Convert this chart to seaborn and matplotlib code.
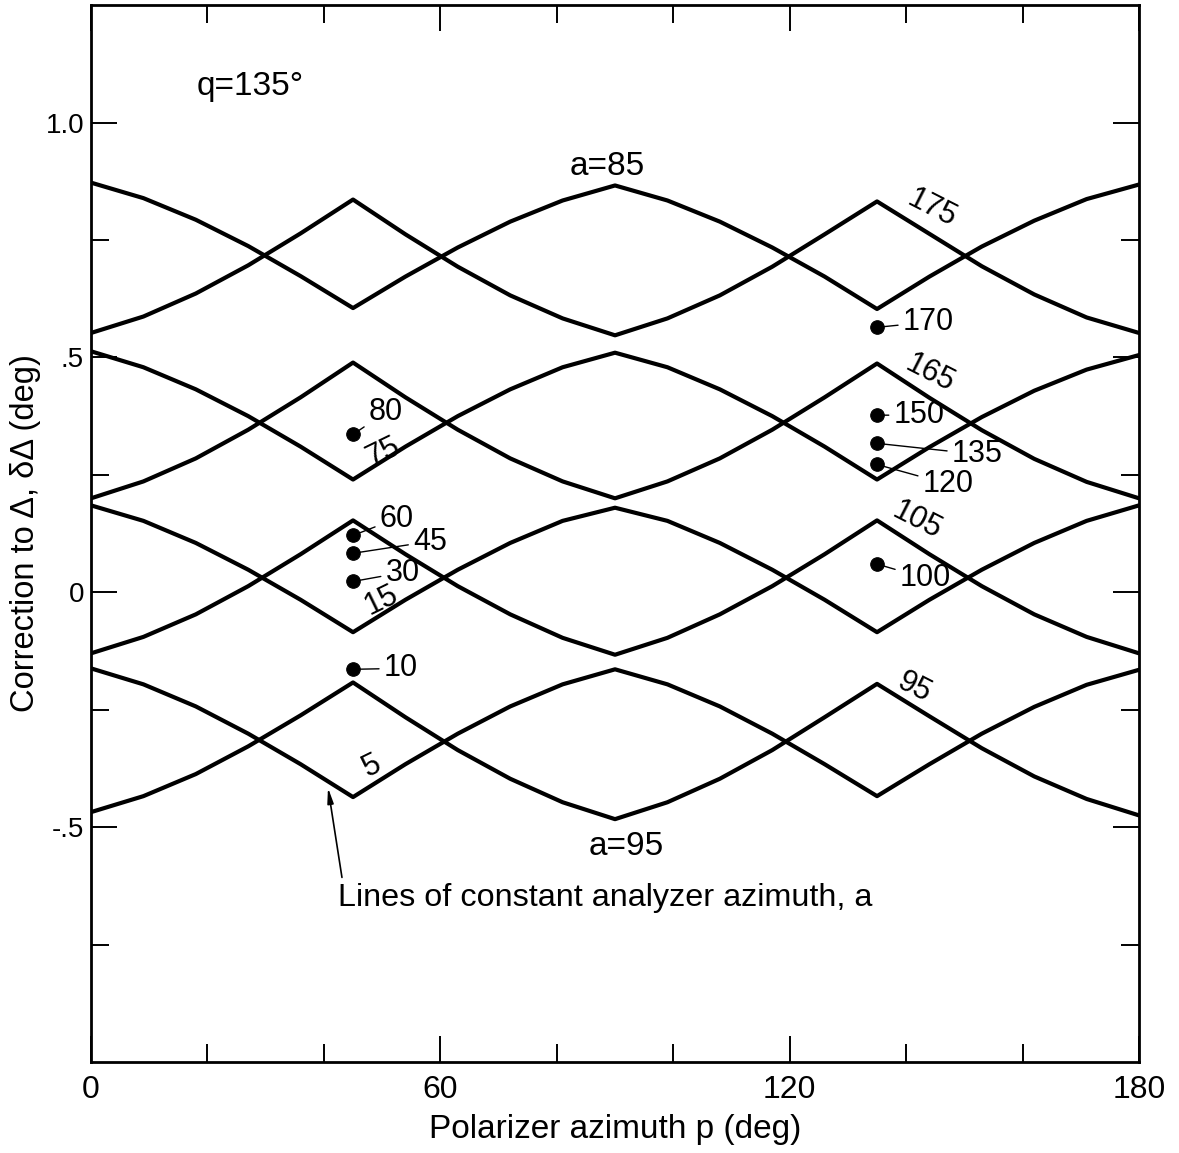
import numpy as np
import pandas as pd
import seaborn as sns
import matplotlib
matplotlib.use("Agg")
import matplotlib.pyplot as plt
from matplotlib import font_manager

# polarizer azimuth p (deg)
p = [0, 9, 18, 27, 36, 45, 54, 63, 72, 81, 90, 99, 108, 117, 126, 135, 144, 153, 162, 171, 180]

# correction to Delta for each analyzer azimuth a
a85 = [0.872, 0.839, 0.793, 0.737, 0.673, 0.605, 0.672, 0.734, 0.789, 0.834, 0.866,
       0.834, 0.789, 0.734, 0.672, 0.603, 0.672, 0.736, 0.791, 0.837, 0.868]
a175 = [0.552, 0.587, 0.636, 0.696, 0.764, 0.836, 0.762, 0.693, 0.632, 0.583, 0.547,
        0.583, 0.632, 0.693, 0.762, 0.832, 0.763, 0.694, 0.634, 0.585, 0.552]
a75 = [0.513, 0.479, 0.432, 0.375, 0.310, 0.240, 0.310, 0.375, 0.432, 0.479, 0.510,
       0.479, 0.432, 0.375, 0.310, 0.240, 0.309, 0.373, 0.429, 0.474, 0.505]
a165 = [0.200, 0.236, 0.285, 0.346, 0.415, 0.489, 0.415, 0.346, 0.285, 0.236, 0.200,
        0.236, 0.285, 0.346, 0.415, 0.487, 0.414, 0.345, 0.284, 0.235, 0.200]
a15 = [0.185, 0.152, 0.105, 0.048, -0.016, -0.085, -0.016, 0.048, 0.105, 0.152, 0.180,
       0.152, 0.105, 0.048, -0.016, -0.085, -0.016, 0.048, 0.105, 0.152, 0.185]
a105 = [-0.130, -0.095, -0.047, 0.013, 0.081, 0.153, 0.081, 0.013, -0.047, -0.097, -0.133,
        -0.097, -0.047, 0.013, 0.081, 0.153, 0.081, 0.013, -0.047, -0.095, -0.130]
a5 = [-0.162, -0.196, -0.243, -0.301, -0.366, -0.436, -0.366, -0.301, -0.243, -0.196, -0.164,
      -0.196, -0.243, -0.301, -0.366, -0.434, -0.366, -0.301, -0.244, -0.197, -0.165]
a95 = [-0.468, -0.434, -0.387, -0.328, -0.262, -0.192, -0.266, -0.336, -0.397, -0.447, -0.483,
       -0.447, -0.397, -0.336, -0.266, -0.195, -0.264, -0.332, -0.392, -0.440, -0.475]

# single points (a values where the correction is constant)
dot_a = [80, 60, 45, 30, 10, 170, 150, 135, 120, 100]
dot_p = [45, 45, 45, 45, 45, 135, 135, 135, 135, 135]
dot_d = [0.336, 0.121, 0.083, 0.023, -0.164, 0.564, 0.377, 0.317, 0.272, 0.060]

curves = {85: a85, 175: a175, 75: a75, 165: a165, 15: a15, 105: a105, 5: a5, 95: a95}
df = pd.concat([pd.DataFrame({"p": p, "d": v, "a": k}) for k, v in curves.items()])

sns.set_style("ticks")
names = {f.name for f in font_manager.fontManager.ttflist}
face = next((n for n in ["Liberation Sans Narrow", "DejaVu Sans Condensed", "Liberation Sans"]
             if n in names), "DejaVu Sans")
plt.rcParams["font.family"] = [face, "DejaVu Sans"]
# old drawing: everything pure black
for k in ["text.color", "axes.labelcolor", "xtick.color", "ytick.color", "axes.edgecolor"]:
    plt.rcParams[k] = "black"

fig = plt.figure(figsize=(11.79, 11.53), dpi=100)
ax = fig.add_axes([0.0772, 0.0789, 0.8889, 0.9167])

sns.lineplot(data=df, x="p", y="d", units="a", estimator=None, color="black",
             lw=3.0, ax=ax, legend=False)
sns.scatterplot(x=dot_p, y=dot_d, color="black", edgecolor="black", s=95, ax=ax,
                legend=False, zorder=4)

ax.set_xlim(0, 180)
ax.set_ylim(-1.0, 1.25)
ax.set_xticks([0, 60, 120, 180])
ax.set_xticklabels(["0", "60", "120", "180"])
ax.set_xticks([20, 40, 80, 100, 140, 160], minor=True)
ax.set_yticks([-0.5, 0, 0.5, 1.0])
ax.set_yticklabels(["-.5", "0", ".5", "1.0"])
ax.set_yticks([-0.75, -0.25, 0.25, 0.75], minor=True)
ax.tick_params(which="both", direction="in", top=True, right=True, width=1.4, color="black")
ax.tick_params(which="major", length=19)
ax.tick_params(which="minor", length=13)
ax.tick_params(axis="x", pad=9, labelsize=23)
ax.tick_params(axis="y", pad=5, labelsize=20)
for s in ax.spines.values():
    s.set_linewidth(2.0)
    s.set_color("black")
    s.set_visible(True)

ax.set_xlabel("Polarizer azimuth p (deg)", fontsize=24, labelpad=7)
ax.set_ylabel("Correction to Δ, δΔ (deg)", fontsize=23.5, labelpad=3)

fs = 22
# labels with leader lines to the single points
dot_text = {80: (50.6, 0.383), 60: (52.5, 0.157), 45: (58.2, 0.108), 30: (53.5, 0.042),
            10: (53.2, -0.162), 170: (143.8, 0.575), 150: (142.2, 0.377), 135: (152.2, 0.294),
            120: (147.2, 0.230), 100: (143.3, 0.030)}
for a, x, y in zip(dot_a, dot_p, dot_d):
    ax.annotate(str(a), xy=(x, y), xytext=dot_text[a], ha="center", va="center", fontsize=fs,
                arrowprops=dict(arrowstyle="-", color="black", lw=1.0, shrinkA=1, shrinkB=0))

# labels along the lines
line_text = [("175", 144.5, 0.818, -27), ("165", 144.0, 0.466, -27), ("105", 141.9, 0.153, -27),
             ("95", 141.4, -0.202, -27), ("75", 50.1, 0.298, 26), ("15", 49.9, -0.017, 26),
             ("5", 48.2, -0.371, 26)]
for t, x, y, r in line_text:
    ax.text(x, y, t, ha="center", va="center", rotation=r, rotation_mode="anchor", fontsize=fs)

ax.text(88.7, 0.907, "a=85", ha="center", va="center", fontsize=24)
ax.text(92.0, -0.541, "a=95", ha="center", va="center", fontsize=24)
ax.text(18.2, 1.077, "q=135°", ha="left", va="center", fontsize=24)
ax.text(42.4, -0.667, "Lines of constant analyzer azimuth, a", ha="left", va="baseline",
        fontsize=23.3)
ax.annotate("", xy=(40.7, -0.416), xytext=(43.1, -0.607),
            arrowprops=dict(arrowstyle="-|>,head_length=0.9,head_width=0.18", color="black",
                            lw=1.2, shrinkA=0, shrinkB=0))

fig.savefig("out.png", dpi=100)
